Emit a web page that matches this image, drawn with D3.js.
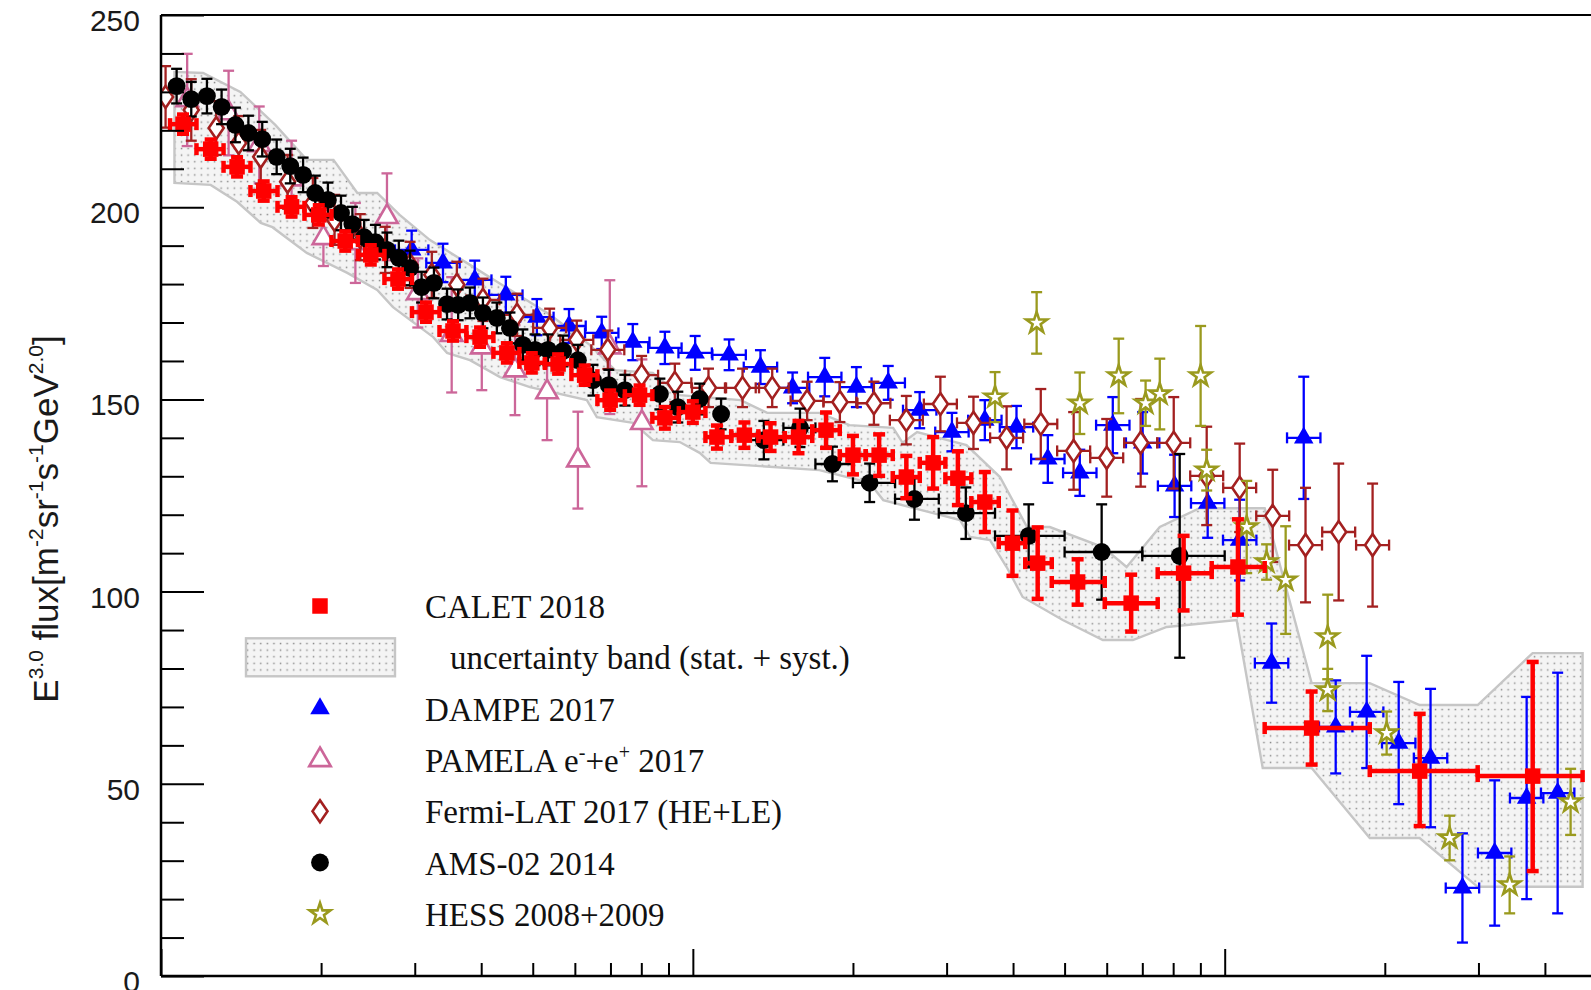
<!DOCTYPE html>
<html>
<meta charset="utf-8">
<style>
body { margin: 0; background: #fff; }
svg { display: block; }
.axis text { font-family: "Liberation Sans", Arial, sans-serif; font-size: 30px; fill: #1a1a1a; }
.axis line { stroke: #000; stroke-width: 2px; }
.legend text { font-family: "Liberation Serif", "Times New Roman", serif; font-size: 33px; fill: #111; }
.title { font-family: "Liberation Sans", Arial, sans-serif; font-size: 35px; fill: #1a1a1a; }
</style>
<body>
<script src="https://cdn.jsdelivr.net/npm/d3@7/dist/d3.min.js"></script>
<script>

// ---- data (energy in GeV, flux = E^3 x flux) ----

// CALET 2018: [E, flux, err]  (err is [down, up] when asymmetric)
var calet = [
  [11.0, 221.6, 2.5], [12.4, 215.1, 2.5], [13.9, 210.5, 2.5], [15.6, 204.2, 2.5],
  [17.6, 200.1, 2.5], [19.8, 198.0, 2.5], [22.2, 191.2, 2.5], [24.8, 187.6, 2.5],
  [27.9, 181.3, 2.5], [31.5, 172.7, 2.5], [35.4, 167.8, 2.5], [39.8, 166.2, 2.5],
  [44.7, 162.1, 2.5], [49.8, 159.5, 2.5], [55.8, 159.2, 2.5], [62.6, 156.3, 2.5],
  [69.9, 149.8, 2.5], [79.4, 151.1, 2.5], [88.6, 145.2, 2.8], [100, 146.7, 2.8],
  [111, 140.2, 3.0], [125, 140.7, 3.3], [140, 140.2, 3.6], [158, 140.2, 4.2],
  [178, 142.0, 4.6], [200, 135.5, 5.0], [224, 135.5, 5.4], [252, 129.8, 5.5],
  [283, 133.5, 6.7], [315, 129.5, 7.0], [354, 123.3, 7.8], [399, 112.6, 8.5],
  [445, 107.4, 9.3], [529, 102.5, 5.9], [667, 97.0, 7.4], [837, 104.8, 9.7],
  [1059, 106.4, 12.4], [1457, 64.5, 9.5], [2326, 53.3, [14.3, 14.9]], [3794, 52.0, [24.7, 29.7]]
];
// CALET bin edges (GeV)
var caletEdges = [10.40, 11.66, 13.11, 14.73, 16.56, 18.61, 20.92, 23.46, 26.31, 29.64,
  33.39, 37.52, 42.17, 47.19, 52.71, 59.11, 66.15, 74.51, 83.92, 94.12,
  105.6, 118.1, 132.8, 148.9, 167.7, 188.9, 211.4, 237.6, 267.1, 298.4,
  333.9, 376.0, 421.7, 473.0, 594.9, 748.2, 945.3, 1189, 1874, 2990, 4709];

// CALET uncertainty band (stat. + syst.), outline
var bandUpper = [
  [10.6, 235.2], [12.0, 234.9], [14.1, 230], [16.4, 221.4], [18.8, 212.3], [21.1, 212.3],
  [23.4, 203.7], [25.5, 203.7], [28.1, 198], [32.0, 191.5], [38.1, 185], [45.3, 178.5],
  [53.9, 172], [64.0, 164.2], [71.4, 157.6], [84.1, 156.9], [94.5, 151.1], [123, 149.8],
  [138, 146.5], [173, 146.5], [197, 143.3], [238, 142.6], [248, 138.7], [264, 141.5],
  [327, 138.1], [378, 129.8], [425, 116.8], [469, 116.8], [590, 111.6], [654, 106.4],
  [755, 116.8], [897, 121.7], [1189, 121.7], [1457, 76.2], [1874, 76.2], [2325, 70.5],
  [2990, 70.5], [3792, 84.0], [4709, 84.0]
];
var bandLower = [
  [10.6, 206.3], [12.4, 205.8], [13.9, 201.4], [15.4, 195.9], [16.2, 194.8], [18.8, 188.1],
  [22.4, 182.9], [25.5, 178.5], [27.3, 174], [32.5, 166.2], [34.5, 162.1], [38.1, 160.2],
  [43.4, 155.8], [49.4, 153.2], [63.2, 149.8], [66.0, 145.4], [77.2, 143.9], [84.1, 139.4],
  [94.5, 138.9], [103, 136.1], [108, 133.5], [173, 131.6], [215, 128.3], [228, 123.8],
  [283, 120.4], [318, 118.6], [332, 114.2], [362, 113.4], [389, 106.4], [417, 98.6],
  [496, 92.6], [590, 87.4], [672, 87.4], [778, 90.8], [1053, 92.6], [1179, 54.1],
  [1457, 54.1], [1874, 35.9], [2325, 35.9], [2990, 23.2], [4709, 23.2]
];

// DAMPE 2017: [E, flux, err]
var dampe = [
  [29.6, 188.9, 5], [33.9, 185.5, 5], [38.9, 181.1, 5], [44.5, 177.2, 4.7], [50.9, 171.4, 4.7],
  [58.5, 169.1, 4.4], [67.4, 167.3, 4.2], [77.1, 164.9, 4.7], [88.6, 163.4, 4.2], [101, 162.1, 4.4],
  [117, 161.6, 4], [134, 158.4, 4.4], [154, 153.0, 4], [177, 155.8, 5], [203, 153.2, 5.2],
  [233, 154.3, 4.4], [267, 147.2, 4.7], [307, 141.5, 5], [354, 144.6, 5.2], [406, 142.8, 5.5],
  [465, 134.5, 6.2], [534, 130.9, 6], [616, 143.3, 7.3], [701, 138.7, 8], [805, 127.5, 8.1],
  [929, 123.0, 9], [1067, 113.4, 10.5], [1225, 81.4, 10.3], [1408, 140.0, 15.9], [1617, 64.8, 12.1],
  [1849, 68.7, 14.6], [2124, 60.6, 15.9], [2438, 56.7, 18], [2799, 22.9, 14.2], [3218, 32.0, 18.9],
  [3696, 46.3, 26.3], [4227, 47.6, 31.3]
];
var dampeHalfBin = 0.0314; // decades

// PAMELA e- + e+ 2017: [E, flux, err]
var pamela = [
  [11.2, 227.9, 12], [13.4, 224.5, 11], [15.3, 216.2, 10], [17.6, 207.3, 10], [20.2, 192.0, 7.3],
  [23.2, 190.7, 10.4], [26.6, 197.5, 11.3], [30.4, 177.7, 9], [35.2, 166.8, 15], [40.1, 163.6, 11.2],
  [46.3, 157.6, 11.7], [53.2, 151.9, 12.5], [60.8, 134.2, 12.6], [69.8, 163.6, 17.4], [80.2, 143.9, 16.5]
];

// Fermi-LAT 2017 LE (no energy bars) and HE: [E, flux, err]
var fermiLE = [
  [10.2, 228.7, 8], [11.4, 225.3, 8], [12.7, 220.6, 7], [14.0, 216.7, 7], [15.4, 213.1, 7],
  [17.3, 206.6, 7], [19.3, 201.1, 6.5], [21.2, 196.7, 6.5], [23.7, 192.2, 6], [26.4, 188.9, 6],
  [29.4, 185.0, 6], [32.3, 182.4, 6], [36.0, 179.8, 6]
];
var fermiHE = [
  [40.3, 175.9, 5.5], [46.7, 172.0, 5.5], [53.8, 168.6, 5], [60.5, 165.5, 5], [69.2, 162.9, 5],
  [80.1, 156.3, 5], [92.5, 154.3, 5], [107, 153.0, 5], [124, 153.0, 5], [141, 153.0, 5],
  [164, 149.6, 5], [189, 149.3, 5.2], [219, 149.0, 5.6], [252, 144.6, 6.3], [292, 148.8, 7.1],
  [337, 143.9, 6.8], [389, 140.0, 8.2], [451, 143.6, 9.1], [520, 136.6, 10.1], [600, 134.8, 10.1],
  [695, 138.7, 11.4], [802, 138.7, 11.9], [925, 130.1, 12.8], [1067, 127.0, 11.5], [1231, 119.7, 12],
  [1419, 112.1, 14.9], [1638, 115.5, 17.8], [1897, 112.1, 16]
];
var fermiHalfBin = 0.031; // decades

// AMS-02 2014: [E, flux, err, binLow, binHigh]
var ams = [
  [10.7, 231.5, 4.5], [11.4, 228.1, 4.5], [12.2, 228.9, 4.5], [13.0, 226.1, 4.5], [13.8, 221.4, 4.5],
  [14.6, 219.3, 4.5], [15.5, 217.7, 4.5], [16.5, 213.1, 4.5], [17.5, 210.7, 4.5], [18.5, 208.4, 4.5],
  [19.5, 203.7, 4.5], [20.6, 201.9, 4.5], [21.8, 198.5, 4.5], [22.9, 195.6, 4.5], [24.1, 192.2, 4.5],
  [25.3, 190.9, 4.5], [26.6, 188.9, 4.5], [28.0, 186.8, 4.5], [29.4, 184.2, 4.5], [30.9, 179.2, 4],
  [32.6, 180.3, 4], [34.5, 174.8, 4], [36.2, 174.6, 4], [38.1, 175.1, 4], [40.3, 172.5, 4],
  [42.8, 171.2, 4], [45.3, 168.6, 4], [47.9, 164.2, 4], [50.5, 162.9, 4], [53.4, 162.9, 4],
  [57.0, 162.6, 4], [60.8, 160.2, 4], [64.9, 155.0, 4], [69.5, 153.7, 4], [74.5, 152.4, 4],
  [86.7, 151.4, 4], [93.7, 148.0, 4], [103, 150.1, 4], [113, 146.2, 4],
  [136, 139.4, 5, 125, 148], [159, 142.6, 5, 148, 170], [183, 133.2, 4.5, 170, 200],
  [215, 128.3, 5, 200, 240], [261, 124.1, 5.4, 240, 290], [326, 120.4, 6.7, 290, 370],
  [428, 114.5, 8.2, 370, 500], [587, 110.3, 12.4, 500, 700], [823, 109.3, 26.5, 700, 1000]
];

// HESS 2008+2009: [E, flux, err]
var hess = [
  [370, 150.6, 6.5], [443, 169.9, 8], [534, 149.0, 8], [632, 156.1, 9.7], [710, 149.0, 5.9],
  [755, 151.4, 9.2], [901, 156.1, 13], [925, 131.6, 5.3], [1100, 116.8, 12], [1199, 107.7, 4.6],
  [1302, 103.0, 14], [1562, 88.2, 11], [1562, 74.4, 5.5], [2016, 63.2, 5.6], [2648, 35.9, 5.8],
  [3434, 23.7, 7.4], [4471, 45.3, 8.6]
];

// axis ticks
var yMajor = [0, 50, 100, 150, 200, 250];
var yMinor = [10, 20, 30, 40, 60, 70, 80, 90, 110, 120, 130, 140, 160, 170, 180, 190, 210, 220, 230, 240];
var xMajor = [10, 100, 1000];
var xMinor = [20, 30, 40, 50, 60, 70, 80, 90, 200, 300, 400, 500, 600, 700, 800, 900, 2000, 3000, 4000];

// ---- layout ----
var W = 1591, H = 990;
var plotLeft = 161, plotTop = 15, plotBottom = 976;

var x = d3.scaleLog().domain([10, 1000]).range([plotLeft, 1224.7]);
var y = d3.scaleLinear().domain([0, 250]).range([plotBottom, plotTop]);

var svg = d3.select("body").append("svg")
    .attr("width", W)
    .attr("height", H);

svg.append("rect").attr("width", W).attr("height", H).attr("fill", "#fff");

var defs = svg.append("defs");

// dotted fill of the band
var pat = defs.append("pattern")
    .attr("id", "dots")
    .attr("patternUnits", "userSpaceOnUse")
    .attr("width", 6.6).attr("height", 6.6);
pat.append("rect").attr("width", 6.6).attr("height", 6.6).attr("fill", "#f4f4f4");
pat.append("rect").attr("x", 2.6).attr("y", 2.6).attr("width", 1.5).attr("height", 1.5).attr("fill", "#8e8e8e");

defs.append("clipPath").attr("id", "plotclip")
  .append("rect").attr("x", plotLeft).attr("y", plotTop).attr("width", W - plotLeft).attr("height", plotBottom - plotTop);

var plot = svg.append("g").attr("clip-path", "url(#plotclip)");

// ---- uncertainty band ----
var bandPts = bandUpper.concat(bandLower.slice().reverse());
var bandLine = d3.line()
    .x(function(d) { return x(d[0]); })
    .y(function(d) { return y(d[1]); });

plot.append("path")
    .attr("d", bandLine(bandPts) + "Z")
    .attr("fill", "url(#dots)")
    .attr("stroke", "#c6c6c6")
    .attr("stroke-width", 2.4);

// ---- markers ----
var sym = {
  square: d3.symbol().type(d3.symbolSquare).size(240),
  triFilled: d3.symbol().type(d3.symbolTriangle).size(165),
  triOpen: d3.symbol().type(d3.symbolTriangle).size(200),
  circle: d3.symbol().type(d3.symbolCircle).size(250),
  star: d3.symbol().type(d3.symbolStar).size(135),
  diamond: function() { return "M0,-11L7.5,0L0,11L-7.5,0Z"; }
};

function errs(e) {
  return Array.isArray(e) ? e : [e, e];
}

// draws error bars (+ optional energy bars) and markers for one data set
function drawSet(g, rows, o) {
  var cap = o.cap || 5.5;
  var bars = g.append("g")
      .attr("stroke", o.color)
      .attr("stroke-width", o.lw)
      .attr("fill", "none");

  rows.forEach(function(d, i) {
    var cx = x(d[0]), cy = y(d[1]);
    var e = errs(d[2]);
    var y1 = y(d[1] - e[0]), y2 = y(d[1] + e[1]);
    bars.append("line").attr("x1", cx).attr("x2", cx).attr("y1", y1).attr("y2", y2);
    bars.append("line").attr("x1", cx - cap).attr("x2", cx + cap).attr("y1", y1).attr("y2", y1);
    bars.append("line").attr("x1", cx - cap).attr("x2", cx + cap).attr("y1", y2).attr("y2", y2);

    var xb = o.xbin ? o.xbin(d, i) : null;
    if (xb) {
      var x1 = x(xb[0]), x2 = x(xb[1]);
      bars.append("line").attr("x1", x1).attr("x2", x2).attr("y1", cy).attr("y2", cy);
      bars.append("line").attr("x1", x1).attr("x2", x1).attr("y1", cy - cap).attr("y2", cy + cap);
      bars.append("line").attr("x1", x2).attr("x2", x2).attr("y1", cy - cap).attr("y2", cy + cap);
    }
  });

  g.selectAll("path.mk")
    .data(rows)
    .enter().append("path")
      .attr("class", "mk")
      .attr("transform", function(d) { return "translate(" + x(d[0]) + "," + y(d[1]) + ")"; })
      .attr("d", o.symbol)
      .attr("fill", o.open ? "#fff" : o.color)
      .attr("stroke", o.open ? o.color : "none")
      .attr("stroke-width", o.open ? 2.6 : 0);
}

var colors = {
  calet: "#ff0000",
  dampe: "#0000ff",
  pamela: "#cc6699",
  fermi: "#a32020",
  ams: "#000000",
  hess: "#9a9a1e"
};

function halfBin(w) {
  return function(d) { return [d[0] / Math.pow(10, w), d[0] * Math.pow(10, w)]; };
}

drawSet(plot.append("g"), dampe, { color: colors.dampe, lw: 2.3, symbol: sym.triFilled, xbin: halfBin(dampeHalfBin) });
drawSet(plot.append("g"), pamela, { color: colors.pamela, lw: 2.3, symbol: sym.triOpen, open: true });
drawSet(plot.append("g"), fermiLE, { color: colors.fermi, lw: 2.3, symbol: sym.diamond, open: true });
drawSet(plot.append("g"), fermiHE, { color: colors.fermi, lw: 2.3, symbol: sym.diamond, open: true, xbin: halfBin(fermiHalfBin) });
drawSet(plot.append("g"), ams, { color: colors.ams, lw: 2.3, symbol: sym.circle,
  xbin: function(d) { return d.length > 3 ? [d[3], d[4]] : null; } });
drawSet(plot.append("g"), hess, { color: colors.hess, lw: 2.3, symbol: sym.star, open: true });
drawSet(plot.append("g"), calet, { color: colors.calet, lw: 4.5, cap: 6, symbol: sym.square,
  xbin: function(d, i) { return [caletEdges[i], caletEdges[i + 1]]; } });

// ---- axes ----
var gy = svg.append("g").attr("class", "axis").attr("transform", "translate(" + plotLeft + ",0)");
gy.append("g").call(d3.axisLeft(y).tickValues(yMinor).tickSizeInner(-23).tickSizeOuter(0).tickFormat(""));
gy.append("g").call(d3.axisLeft(y).tickValues(yMajor).tickSizeInner(-43).tickSizeOuter(0).tickPadding(21));
gy.selectAll(".domain").remove();
gy.selectAll("text").attr("dy", "15.5px");

var gx = svg.append("g").attr("class", "axis").attr("transform", "translate(0," + plotBottom + ")");
gx.append("g").call(d3.axisBottom(x).tickValues(xMinor).tickSizeInner(-13).tickSizeOuter(0).tickFormat(""));
gx.append("g").call(d3.axisBottom(x).tickValues(xMajor).tickSizeInner(-27).tickSizeOuter(0).tickFormat(""));
gx.selectAll(".domain").remove();

// frame
svg.append("line").attr("x1", plotLeft).attr("x2", W).attr("y1", plotTop).attr("y2", plotTop)
    .attr("stroke", "#000").attr("stroke-width", 2);
svg.append("line").attr("x1", plotLeft).attr("x2", W).attr("y1", plotBottom).attr("y2", plotBottom)
    .attr("stroke", "#000").attr("stroke-width", 2.5);
svg.append("line").attr("x1", plotLeft).attr("x2", plotLeft).attr("y1", plotTop).attr("y2", plotBottom)
    .attr("stroke", "#000").attr("stroke-width", 2.5);

// y title
var title = svg.append("text")
    .attr("class", "title")
    .attr("transform", "translate(58," + 519 + ") rotate(-90)")
    .attr("text-anchor", "middle");
var parts = [["E", 0], ["3.0", 1], [" flux[m", 0], ["-2", 1], ["sr", 0], ["-1", 1], ["s", 0], ["-1", 1], ["GeV", 0], ["2.0", 1], ["]", 0]];
var prevSup = 0;
parts.forEach(function(p) {
  var t = title.append("tspan").text(p[0]);
  if (p[1] && !prevSup) t.attr("dy", -15).attr("font-size", "21px");
  else if (p[1]) t.attr("font-size", "21px");
  else if (prevSup) t.attr("dy", 15);
  prevSup = p[1];
});

// ---- legend ----
var legendRows = [
  { label: "CALET 2018", color: colors.calet, symbol: sym.square },
  { label: "uncertainty band (stat. + syst.)", band: true },
  { label: "DAMPE 2017", color: colors.dampe, symbol: sym.triFilled },
  { label: "PAMELA", color: colors.pamela, symbol: sym.triOpen, open: true, pamela: true },
  { label: "Fermi-LAT 2017 (HE+LE)", color: colors.fermi, symbol: sym.diamond, open: true },
  { label: "AMS-02 2014", color: colors.ams, symbol: sym.circle },
  { label: "HESS 2008+2009", color: colors.hess, symbol: sym.star, open: true }
];

var leg = svg.append("g").attr("class", "legend");
legendRows.forEach(function(r, i) {
  var cy = 606 + i * 51.3;
  if (r.band) {
    leg.append("rect")
        .attr("x", 246).attr("y", cy - 19).attr("width", 149).attr("height", 38)
        .attr("fill", "url(#dots)").attr("stroke", "#c6c6c6").attr("stroke-width", 2.4);
  } else {
    leg.append("path")
        .attr("transform", "translate(320," + cy + ")")
        .attr("d", r.symbol)
        .attr("fill", r.open ? "#fff" : r.color)
        .attr("stroke", r.open ? r.color : "none")
        .attr("stroke-width", r.open ? 2.6 : 0);
  }
  var t = leg.append("text").attr("x", r.band ? 450 : 425).attr("y", cy + 12);
  if (r.pamela) {
    t.append("tspan").text("PAMELA e");
    t.append("tspan").text("-").attr("dy", -13).attr("font-size", "20px");
    t.append("tspan").text("+e").attr("dy", 13);
    t.append("tspan").text("+").attr("dy", -13).attr("font-size", "20px");
    t.append("tspan").text(" 2017").attr("dy", 13);
  } else {
    t.text(r.label);
  }
});

</script>
</body>
</html>
